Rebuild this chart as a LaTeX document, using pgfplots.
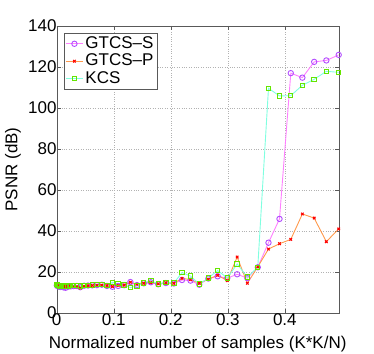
\documentclass[border=0pt]{standalone}
\usepackage{pgfplots}
\pgfplotsset{compat=1.18}
\usepackage{fontspec}
\setmainfont{Liberation Sans}
\definecolor{sline}{rgb}{1,0.5,1}
\definecolor{smark}{rgb}{0.7,0.3,1}
\definecolor{pline}{rgb}{1,0.6,0.3}
\definecolor{pmark}{rgb}{1,0,0}
\definecolor{kline}{rgb}{0.5,1,0.88}
\definecolor{kmark}{rgb}{0.4,0.9,0}
\begin{document}
\fontsize{17}{20}\selectfont
\begin{tikzpicture}
\path[use as bounding box] (-56.7pt,-40pt) rectangle (317.3pt,313pt);
\begin{axis}[
    at={(0,0)}, anchor=south west,
    scale only axis,
    width=282pt, height=287pt,
    xmin=0, xmax=0.4944,
    ymin=0, ymax=140,
    xtick={0,0.1,0.2,0.3,0.4},
    ytick={0,20,...,140},
    xticklabels={0,0.1,0.2,0.3,0.4},
    /pgf/number format/assume math mode=true,
    ticklabel style={font=\fontsize{17}{20}\selectfont, inner sep=1pt},
    label style={font=\fontsize{17}{20}\selectfont, inner sep=0pt},
    yticklabel style={xshift=1pt},
    xticklabel style={yshift=1pt},
    tick align=inside,
    tick style={gray!70!black},
    major tick length=4pt,
    axis line style={gray!70!black},
    grid=major,
    grid style={dotted, gray!60},
    xlabel={Normalized number of samples (K*K/N)},
    ylabel={PSNR (dB)},
    xlabel style={at={(axis description cs:0.5,-0.108)}, anchor=center},
    ylabel style={at={(axis description cs:-0.155,0.5)}, anchor=center},
    legend style={at={(0.025,0.976)}, anchor=north west, draw=gray!70!black,
        font=\fontsize{17}{20}\selectfont, inner sep=1.5pt, row sep=-1pt},
    legend cell align=left,
]
\addplot[sline, line width=0.9pt, mark=o, mark size=2.7pt, mark options={draw=smark, line width=0.9pt}] coordinates {
(0.0002,13.5) (0.0010,13.3) (0.0022,13.0) (0.0039,12.9) (0.0061,12.7) (0.0088,12.8)
(0.0120,12.5) (0.0156,12.3) (0.0198,12.8) (0.0244,13.0) (0.0295,13.1) (0.0352,13.2)
(0.0413,12.6) (0.0479,13.3) (0.0549,13.4) (0.0625,13.5) (0.0706,13.6) (0.0791,13.8)
(0.0881,13.2) (0.0977,12.8) (0.1077,13.2) (0.1182,13.6) (0.1292,15.1) (0.1406,13.6)
(0.1526,14.5) (0.1650,15.0) (0.1780,14.0) (0.1914,14.6) (0.2053,14.4) (0.2197,16.1)
(0.2346,15.8) (0.2500,13.8) (0.2659,16.8) (0.2822,17.9) (0.2991,17.0) (0.3164,18.9)
(0.3342,17.0) (0.3525,22.3) (0.3713,34.3) (0.3906,45.9) (0.4104,117.0) (0.4307,114.8)
(0.4514,122.5) (0.4727,123.2) (0.4944,125.9)
};
\addlegendentry{GTCS--S}
\addplot[pline, line width=0.9pt, mark=x, mark size=1.8pt, mark options={draw=pmark, line width=1.1pt}] coordinates {
(0.0002,13.3) (0.0010,13.2) (0.0022,13.0) (0.0039,13.1) (0.0061,12.9) (0.0088,12.7)
(0.0120,12.9) (0.0156,13.0) (0.0198,13.2) (0.0244,13.1) (0.0295,12.9) (0.0352,12.8)
(0.0413,12.2) (0.0479,13.0) (0.0549,13.3) (0.0625,13.4) (0.0706,13.5) (0.0791,13.6)
(0.0881,13.4) (0.0977,12.9) (0.1077,13.4) (0.1182,13.6) (0.1292,15.0) (0.1406,14.0)
(0.1526,14.5) (0.1650,14.8) (0.1780,14.2) (0.1914,14.8) (0.2053,14.5) (0.2197,16.9)
(0.2346,16.3) (0.2500,14.5) (0.2659,16.5) (0.2822,18.4) (0.2991,15.8) (0.3164,27.3)
(0.3342,14.5) (0.3525,22.5) (0.3713,31.2) (0.3906,33.8) (0.4104,35.9) (0.4307,48.3)
(0.4514,46.3) (0.4727,34.8) (0.4944,41.0)
};
\addlegendentry{GTCS--P}
\addplot[kline, line width=0.9pt, mark=square, mark size=2.2pt, mark options={draw=kmark, line width=1pt}] coordinates {
(0.0002,13.8) (0.0010,13.6) (0.0022,13.5) (0.0039,13.4) (0.0061,13.2) (0.0088,13.0)
(0.0120,13.1) (0.0156,13.0) (0.0198,13.2) (0.0244,13.4) (0.0295,13.5) (0.0352,13.3)
(0.0413,13.2) (0.0479,13.4) (0.0549,13.5) (0.0625,13.6) (0.0706,13.8) (0.0791,13.9)
(0.0881,13.5) (0.0977,15.0) (0.1077,14.3) (0.1182,13.6) (0.1292,12.4) (0.1406,13.2)
(0.1526,14.6) (0.1650,15.8) (0.1780,14.1) (0.1914,15.0) (0.2053,14.6) (0.2197,19.7)
(0.2346,18.0) (0.2500,14.1) (0.2659,17.1) (0.2822,20.7) (0.2991,17.1) (0.3164,23.9)
(0.3342,17.5) (0.3525,22.3) (0.3713,109.6) (0.3906,105.9) (0.4104,106.0) (0.4307,111.1)
(0.4514,114.0) (0.4727,117.9) (0.4944,117.4)
};
\addlegendentry{KCS}
\end{axis}
\end{tikzpicture}
\end{document}
